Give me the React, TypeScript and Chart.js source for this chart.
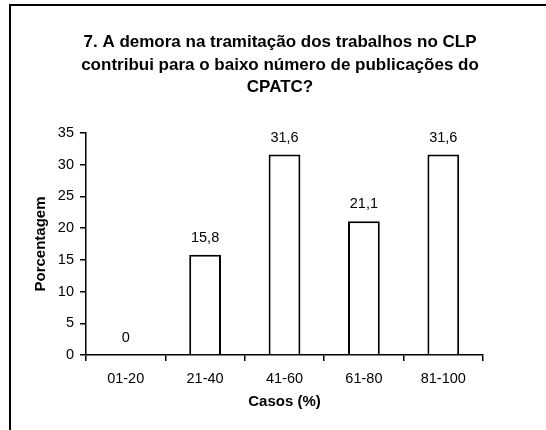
import React, { useEffect, useRef } from "react";
import { Chart, registerables } from "chart.js";

Chart.register(...registerables);

const categories = ["01-20", "21-40", "41-60", "61-80", "81-100"];
const values = [0, 15.8, 31.6, 21.1, 31.6];
const titleLines = [
  "7. A demora na tramitação dos trabalhos no CLP",
  "contribui para o baixo número de publicações do",
  "CPATC?",
];
const yTitle = "Porcentagem";
const xTitle = "Casos (%)";

const FONT = "'Liberation Sans', Arial, Helvetica, sans-serif";

const fmt = (v: number) => (v === 0 ? "0" : v.toFixed(1).replace(".", ","));

const decorPlugin = {
  id: "decor",
  afterDraw(chart: any) {
    const ctx = chart.ctx;
    ctx.save();
    // frame
    ctx.strokeStyle = "#000";
    ctx.lineWidth = 2;
    ctx.beginPath();
    ctx.moveTo(10, 430);
    ctx.lineTo(10, 5);
    ctx.lineTo(546, 5);
    ctx.stroke();
    // title
    ctx.fillStyle = "#000";
    ctx.font = `bold 17px ${FONT}`;
    ctx.textAlign = "center";
    ctx.textBaseline = "alphabetic";
    const baselines = [47, 70, 92];
    titleLines.forEach((t, i) => ctx.fillText(t, 280, baselines[i]));
    // data labels
    ctx.font = `14.5px ${FONT}`;
    ctx.textBaseline = "middle";
    const meta = chart.getDatasetMeta(0);
    meta.data.forEach((bar: any, i: number) => {
      ctx.fillText(fmt(values[i]), bar.x, bar.y - 17);
    });
    ctx.restore();
  },
};

export default function App() {
  const ref = useRef<HTMLCanvasElement>(null);
  useEffect(() => {
    if (!ref.current) return;
    const chart = new Chart(ref.current, {
      type: "bar",
      data: {
        labels: categories,
        datasets: [
          {
            data: values,
            backgroundColor: "#fff",
            borderColor: "#000",
            borderWidth: 2,
            barPercentage: 0.4,
            categoryPercentage: 1,
          },
        ],
      },
      options: {
        responsive: false,
        animation: false,
        events: [],
        layout: { padding: { left: 30, right: 63, top: 133, bottom: 15 } },
        plugins: {
          legend: { display: false },
          title: { display: false },
          tooltip: { enabled: false },
        },
        scales: {
          x: {
            afterFit: (s: any) => {
              s.height = 60;
            },
            grid: {
              display: true,
              drawOnChartArea: false,
              drawTicks: true,
              tickLength: 6,
              color: "#000",
              lineWidth: 1.5,
              offset: true,
            },
            border: { display: true, color: "#000", width: 1.5 },
            ticks: {
              color: "#000",
              font: { family: FONT, size: 14.5 },
              padding: 9,
              maxRotation: 0,
            },
            title: {
              display: true,
              text: xTitle,
              color: "#000",
              font: { family: FONT, size: 15, weight: "bold" },
              padding: { top: 0, bottom: 4 },
            },
          },
          y: {
            min: 0,
            max: 35,
            afterFit: (s: any) => {
              s.width = 56;
            },
            grid: {
              display: true,
              drawOnChartArea: false,
              drawTicks: true,
              tickLength: 6,
              color: "#000",
              lineWidth: 1.5,
            },
            border: { display: true, color: "#000", width: 1.5 },
            ticks: {
              stepSize: 5,
              color: "#000",
              font: { family: FONT, size: 14.5 },
              padding: 6,
            },
            title: {
              display: true,
              text: yTitle,
              color: "#000",
              font: { family: FONT, size: 15, weight: "bold" },
              padding: { top: 2, bottom: 0 },
            },
          },
        },
      },
      plugins: [decorPlugin],
    });
    return () => chart.destroy();
  }, []);
  return (
    <div style={{ position: "absolute", left: 0, top: 0, width: 546, height: 430, background: "#fff" }}>
      <canvas ref={ref} width={546} height={430} />
    </div>
  );
}
